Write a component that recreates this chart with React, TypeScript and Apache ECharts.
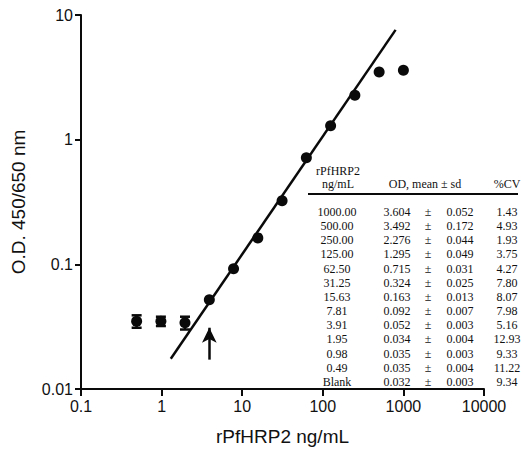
import React, { useEffect, useRef } from "react";
import * as echarts from "echarts";

// ---- data ----
const concLabels = ["1000.00", "500.00", "250.00", "125.00", "62.50", "31.25", "15.63", "7.81", "3.91", "1.95", "0.98", "0.49", "Blank"];
const concValues = [1000, 500, 250, 125, 62.5, 31.25, 15.63, 7.81, 3.91, 1.95, 0.98, 0.49];
const meanLabels = ["3.604", "3.492", "2.276", "1.295", "0.715", "0.324", "0.163", "0.092", "0.052", "0.034", "0.035", "0.035", "0.032"];
const sdLabels = ["0.052", "0.172", "0.044", "0.049", "0.031", "0.025", "0.013", "0.007", "0.003", "0.004", "0.003", "0.004", "0.003"];
const cvLabels = ["1.43", "4.93", "1.93", "3.75", "4.27", "7.80", "8.07", "7.98", "5.16", "12.93", "9.33", "11.22", "9.34"];
const meanValues = [3.604, 3.492, 2.276, 1.295, 0.715, 0.324, 0.163, 0.092, 0.052, 0.034, 0.035, 0.035];
const sdValues = [0.052, 0.172, 0.044, 0.049, 0.031, 0.025, 0.013, 0.007, 0.003, 0.004, 0.003, 0.004];
// regression line end points (x, y)
const fitLine: [number, number][] = [[1.3, 0.0175], [800, 7.6]];
// detection-limit arrow (x, y from, y to)
const arrowX = 3.91;
const arrowFrom = 0.0172;
const arrowTo = 0.031;

const xTickLabels = ["0.1", "1", "10", "100", "1000", "10000"];
const yTickLabels = ["0.01", "0.1", "1", "10"];

const SANS = "'Liberation Sans', Arial, sans-serif";
const SERIF = "'Liberation Serif', 'Times New Roman', serif";
const DOT = 11;
const INK = "#0a0a0a";

export default function App() {
  const ref = useRef<HTMLDivElement>(null);
  useEffect(() => {
    if (!ref.current) return;
    const chart = echarts.init(ref.current, undefined, { renderer: "svg" });

    const tableStyle = { fontFamily: SERIF, fontSize: 12, fill: "#111" };
    const graphic: any[] = [];
    graphic.push({ type: "text", x: 338, y: 170.5, style: { ...tableStyle, text: "rPfHRP2", align: "center", verticalAlign: "middle" } });
    graphic.push({ type: "text", x: 338, y: 184, style: { ...tableStyle, text: "ng/mL", align: "center", verticalAlign: "middle" } });
    graphic.push({ type: "text", x: 425, y: 184, style: { ...tableStyle, text: "OD, mean ± sd", align: "center", verticalAlign: "middle" } });
    graphic.push({ type: "text", x: 507, y: 184, style: { ...tableStyle, text: "%CV", align: "center", verticalAlign: "middle" } });
    graphic.push({ type: "line", shape: { x1: 308, y1: 194, x2: 518, y2: 194 }, style: { stroke: INK, lineWidth: 2 } });
    concLabels.forEach((c, i) => {
      const y = 212 + i * 14.15;
      graphic.push({ type: "text", x: 337, y, style: { ...tableStyle, text: c, align: "center", verticalAlign: "middle" } });
      graphic.push({ type: "text", x: 397, y, style: { ...tableStyle, text: meanLabels[i], align: "center", verticalAlign: "middle" } });
      graphic.push({ type: "text", x: 428, y, style: { ...tableStyle, text: "±", align: "center", verticalAlign: "middle" } });
      graphic.push({ type: "text", x: 460, y, style: { ...tableStyle, text: sdLabels[i], align: "center", verticalAlign: "middle" } });
      graphic.push({ type: "text", x: 507, y, style: { ...tableStyle, text: cvLabels[i], align: "center", verticalAlign: "middle" } });
    });

    const points = concValues.map((x, i) => [x, meanValues[i]]);
    const errData = concValues.map((x, i) => [x, meanValues[i], sdValues[i]]);

    chart.setOption({
      animation: false,
      backgroundColor: "#fff",
      grid: { left: 81, right: 39, top: 15, bottom: 58, containLabel: false },
      xAxis: {
        type: "log",
        logBase: 10,
        min: 0.1,
        max: 10000,
        name: "rPfHRP2 ng/mL",
        nameLocation: "middle",
        nameGap: 38,
        nameTextStyle: { fontFamily: SANS, fontSize: 19, color: "#111" },
        axisLine: { onZero: false, lineStyle: { color: INK, width: 2 } },
        axisTick: { show: true, length: 7, lineStyle: { color: INK, width: 2 } },
        minorTick: { show: false },
        splitLine: { show: false },
        axisLabel: {
          fontFamily: SANS,
          fontSize: 16,
          color: "#111",
          margin: 9,
          formatter: (v: number) => xTickLabels[Math.round(Math.log10(v)) + 1] ?? "",
        },
      },
      yAxis: {
        type: "log",
        logBase: 10,
        min: 0.01,
        max: 10,
        name: "O.D. 450/650 nm",
        nameLocation: "middle",
        nameGap: 53,
        nameTextStyle: { fontFamily: SANS, fontSize: 19, color: "#111" },
        axisLine: { onZero: false, lineStyle: { color: INK, width: 2 } },
        axisTick: { show: true, length: 6, lineStyle: { color: INK, width: 2 } },
        minorTick: { show: false },
        splitLine: { show: false },
        axisLabel: {
          fontFamily: SANS,
          fontSize: 16,
          color: "#111",
          margin: 8,
          formatter: (v: number) => yTickLabels[Math.round(Math.log10(v)) + 2] ?? "",
        },
      },
      graphic,
      series: [
        {
          type: "line",
          data: fitLine,
          symbol: "none",
          lineStyle: { color: INK, width: 2.5 },
          z: 2,
          silent: true,
          markLine: {
            silent: true,
            symbol: ["none", "arrow"],
            symbolSize: [11, 15],
            label: { show: false },
            itemStyle: { color: INK },
            lineStyle: { color: INK, width: 2.5, type: "solid" },
            data: [[{ coord: [arrowX, arrowFrom] }, { coord: [arrowX, arrowTo] }]],
          },
        },
        {
          type: "custom",
          data: errData,
          z: 3,
          renderItem: (params: any, api: any) => {
            const x = api.value(0);
            const m = api.value(1);
            const s = api.value(2);
            const top = api.coord([x, m + s]);
            const bot = api.coord([x, m - s]);
            // like the original plotting software: bars hidden inside the symbol are not drawn
            if (Math.abs(bot[1] - top[1]) < DOT - 2) return null;
            const hw = 5;
            const st = { stroke: INK, lineWidth: 2.5 };
            return {
              type: "group",
              children: [
                { type: "line", shape: { x1: top[0], y1: top[1], x2: bot[0], y2: bot[1] }, style: st },
                { type: "line", shape: { x1: top[0] - hw, y1: top[1], x2: top[0] + hw, y2: top[1] }, style: st },
                { type: "line", shape: { x1: bot[0] - hw, y1: bot[1], x2: bot[0] + hw, y2: bot[1] }, style: st },
              ],
            };
          },
        },
        {
          type: "scatter",
          data: points,
          symbol: "circle",
          symbolSize: DOT,
          itemStyle: { color: INK, opacity: 1 },
          z: 4,
        },
      ],
    });
    return () => chart.dispose();
  }, []);
  return (
    <div
      ref={ref}
      style={{ position: "absolute", left: 0, top: 0, width: 523, height: 451, background: "#fff" }}
    />
  );
}
